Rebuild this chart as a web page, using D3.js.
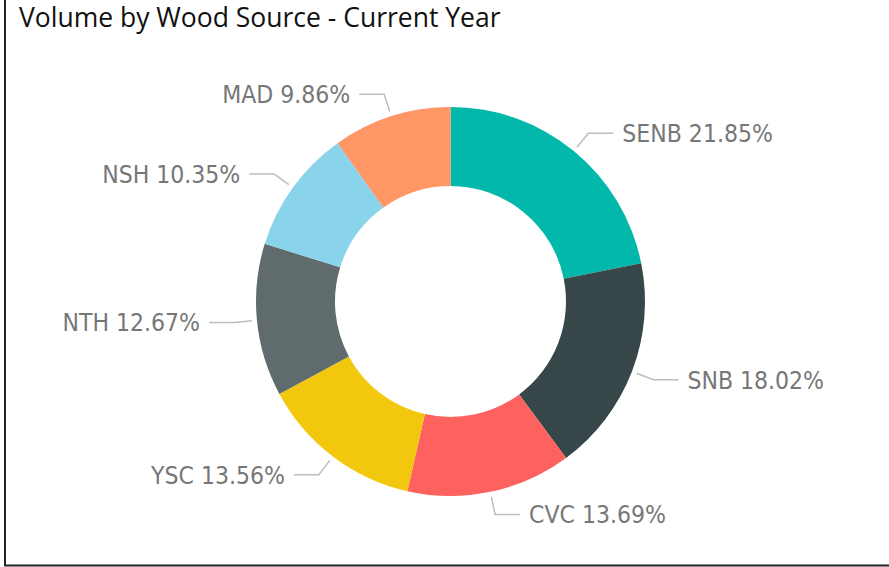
<!DOCTYPE html>
<html>
<head>
<meta charset="utf-8">
<script src="https://cdn.jsdelivr.net/npm/d3@7"></script>
<style>
  html, body { margin: 0; padding: 0; background: #fff; }
</style>
</head>
<body>
<div id="chart"></div>
<script>
const categories = ["SENB", "SNB", "CVC", "YSC", "NTH", "NSH", "MAD"]
const shares = [21.85, 18.02, 13.69, 13.56, 12.67, 10.35, 9.86]
const colors = ["#01B8AA", "#374649", "#FD625E", "#F2C80F", "#5F6B6D", "#8AD4EB", "#FE9666"]

const width = 889
const height = 567
const cx = 450.5
const cy = 301.5
const outerR = 194.5
const innerR = 115.5

const svg = d3.select("#chart")
  .append("svg")
  .attr("width", width)
  .attr("height", height)
  .style("display", "block")

// frame (left + bottom edges visible)
svg.append("line")
  .attr("x1", 5).attr("x2", 5).attr("y1", 0).attr("y2", 566)
  .attr("stroke", "#222").attr("stroke-width", 2)
svg.append("line")
  .attr("x1", 4).attr("x2", width).attr("y1", 565.5).attr("y2", 565.5)
  .attr("stroke", "#222").attr("stroke-width", 2)

svg.append("text")
  .attr("x", 19)
  .attr("y", 27)
  .attr("font-family", "'Open Sans', 'Noto Sans', sans-serif")
  .attr("font-size", 26.5)
  .attr("fill", "#111")
  .text("Volume by Wood Source - Current Year")

const data = categories.map((c, i) => ({ name: c, value: shares[i], color: colors[i] }))

const pie = d3.pie()
  .value(d => d.value)
  .sort(null)

const arc = d3.arc()
  .innerRadius(innerR)
  .outerRadius(outerR)

const arcs = pie(data)

const g = svg.append("g")
  .attr("transform", `translate(${cx},${cy})`)

g.selectAll("path.slice")
  .data(arcs)
  .enter()
    .append("path")
    .attr("class", "slice")
    .attr("d", arc)
    .attr("fill", d => d.data.color)

// leader lines + labels
const startArc = d3.arc().innerRadius(outerR + 5).outerRadius(outerR + 5)
const elbowArc = d3.arc().innerRadius(outerR + 23).outerRadius(outerR + 23)

arcs.forEach(d => {
  const mid = (d.startAngle + d.endAngle) / 2
  const p0 = startArc.centroid(d)
  const p1 = elbowArc.centroid(d)
  const right = Math.sin(mid) >= 0
  const p2 = [p1[0] + (right ? 25 : -25), p1[1]]

  g.append("polyline")
    .attr("points", [p0, p1, p2].map(p => p.join(",")).join(" "))
    .attr("fill", "none")
    .attr("stroke", "#bdbdbd")
    .attr("stroke-width", 1.5)

  g.append("text")
    .attr("x", p2[0] + (right ? 9 : -9))
    .attr("y", p2[1])
    .attr("dy", "0.36em")
    .attr("text-anchor", right ? "start" : "end")
    .attr("font-family", "'DejaVu Sans Condensed', 'DejaVu Sans', sans-serif")
    .attr("font-size", 24.5)
    .attr("fill", "#777")
    .text(`${d.data.name} ${d3.format(".2f")(d.data.value)}%`)
})
</script>
</body>
</html>
